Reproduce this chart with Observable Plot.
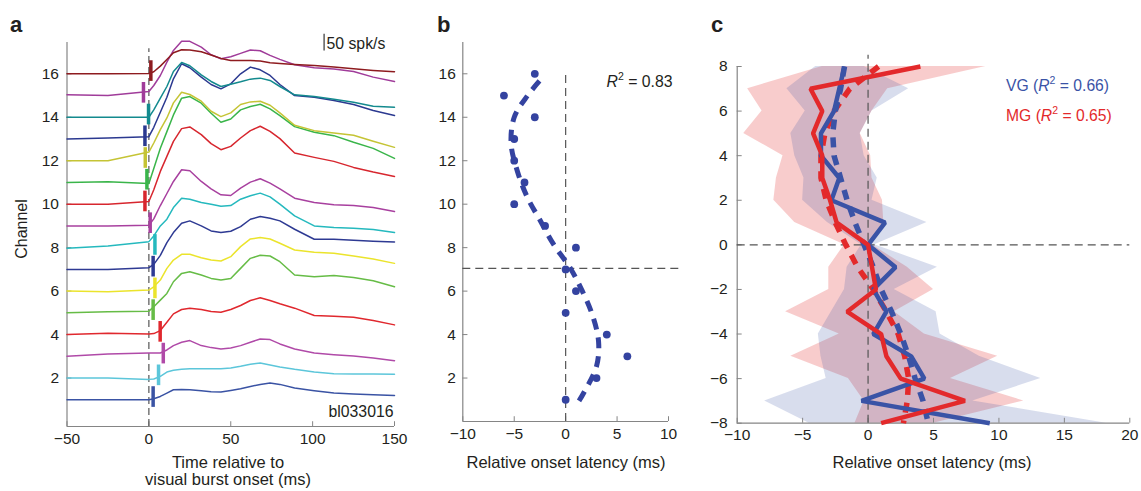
<!DOCTYPE html>
<html><head><meta charset="utf-8">
<script src="https://cdn.jsdelivr.net/npm/d3@7"></script>
<script src="https://cdn.jsdelivr.net/npm/@observablehq/plot@0.6"></script>
<style>
html,body{margin:0;padding:0;background:#fff;}
#root{position:relative;width:1141px;height:491px;overflow:hidden;}
#root svg{position:absolute;overflow:visible;max-width:none;}
</style></head><body><div id="root"></div>
<script>
// ---------------- Panel a data ----------------
const timeMs = [-50,-25,0,3,7,11,15,20,25,32,38,44,50,56,62,68,74,80,89,101,113,125,137,150];
const rateCh01 = [0,0,0,3,10,20,30,31,30,27,24,23,28,33,40,46,50,46,35,27,20,17,15,13];
const rateCh02 = [0,0,-4,-3,5,18,23,26,28,28,28,28,30,35,41,45,39,33,26,18,13,12,12,11];
const rateCh03 = [0,7,10,10,10,19,32,42,47,32,26,22,25,32,42,52,50,37,22,10,5,1,-5,-13];
const rateCh04 = [0,4,2,3,12,37,62,75,79,75,69,67,75,87,102,110,102,92,79,57,55,52,42,29];
const rateCh05 = [0,3,5,18,38,58,93,118,123,113,103,98,103,133,163,172,170,153,113,108,112,106,96,78];
const rateCh06 = [0,-2,3,13,33,68,93,110,110,100,93,90,103,133,156,160,156,143,123,116,113,105,96,83];
const rateCh07 = [0,0,5,15,42,80,110,138,145,130,115,110,114,128,150,158,153,145,120,90,90,87,84,82];
const rateCh08 = [-2,5,18,35,65,85,120,148,145,135,130,124,126,145,155,163,152,130,95,65,60,58,54,45];
const rateCh09 = [0,0,2,21,61,97,133,168,165,133,111,93,91,113,131,141,128,111,83,70,63,61,55,43];
const rateCh10 = [0,0,8,43,98,143,188,226,231,208,181,163,173,198,220,233,218,196,153,140,128,110,96,83];
const rateCh11 = [0,2,-3,42,102,152,202,252,257,237,207,180,190,217,227,234,220,200,167,150,140,120,102,72];
const rateCh12 = [0,0,26,53,93,128,173,205,198,178,148,132,143,168,176,178,166,143,106,90,83,76,58,40];
const rateCh13 = [0,3,7,35,80,125,180,225,213,185,163,150,165,195,215,207,190,163,130,125,115,103,85,70];
const rateCh14 = [0,0,0,22,57,92,137,164,154,127,107,92,99,106,114,117,110,92,67,62,54,45,33,30];
const rateCh15 = [2,0,12,30,60,100,135,162,162,145,122,110,116,126,136,134,120,108,92,83,79,72,55,42];
const rateCh16 = [0,0,1,6,23,43,63,72,71,66,56,46,40,40,40,38,33,31,28,25,20,15,10,6];
const traceColors = ["#3a53a4","#5cc6da","#b04aa8","#e0282e","#66bc46","#ebe42c","#2e3a93","#25b9be",
                     "#a8409f","#d7262e","#3ab54a","#c5c435","#2b3990","#138a8e","#a03c9a","#8e1b1f"];
const onsetMs = [2.6,5.9,8.8,6.9,2.6,3.7,2.6,3.7,0.8,-2.4,-1.2,-2.2,-2.4,-0.2,-3.3,1.2];
const spkPerChannel = 65;
const scaleBar = {t: 107, base: 17.05, spk: 50};
const xTicksA = [-50,0,50,100,150];
const yTicksA = [2,4,6,8,10,12,14,16];

// ---------------- Panel b data ----------------
const latencyB = [0,3,6,4,0,1,0,1,-2,-5,-4,-5,-5,-3,-6,-3];   // channels 1..16
const fitChB  = [0.95,1.31,2.54,3.68,4.9,6.02,7.02,8.17,9.27,10.34,11.53,12.76,14.0,15.0,15.8];
const fitLatB = [1.3,1.75,3.0,3.2,2.6,1.6,0.5,-1.2,-2.5,-3.75,-4.7,-5.3,-5.0,-3.7,-2.3];
const crossB = {lat: 0, ch: 7.05};
const xTicksB = [-10,-5,0,5,10];
const yTicksB = [2,4,6,8,10,12,14,16];

// ---------------- Panel c data ----------------
const yC     = [8,7,6,5,4,3,2,1,0,-1,-2,-3,-4,-5,-6,-7,-8];
const vgMean = [-1.8,-2.2,-2.6,-3.6,-3.6,-2.2,-2.8,1.3,0,2.1,0.4,1.4,0.4,3.3,4.3,-0.5,9.3];
const vgFit  = [-1.8,-2.1,-2.5,-2.7,-2.6,-2.1,-1.6,-1.0,-0.3,0.4,1.0,1.8,2.5,3.1,3.6,4.2,4.6];
const vgLo   = [-4.0,-6.2,-4.8,-5.9,-5.6,-4.9,-5.0,-3.1,-0.5,-1.6,-1.8,-2.8,-3.8,-3.6,-3.2,-7.9,-4.5];
const vgHi   = [-0.3,3.1,0.3,-0.6,-0.3,0.7,0.3,4.5,0.5,5.3,2.0,5.2,5.5,8.5,13.2,8.0,18.2];
const mgMean = [4.0,-4.4,-3.5,-4.2,-3.5,-3.5,-2.9,-2.4,0,0.3,0.6,-1.6,1.0,1.4,2.5,7.4,1.0];
const mgFit  = [0.8,-1.4,-2.6,-3.3,-3.6,-3.6,-3.2,-2.5,-1.7,-0.8,0.4,1.4,2.3,2.8,3.1,3.0,2.7];
const mgLo   = [-3.5,-9.2,-8.1,-9.5,-6.5,-7.0,-7.2,-5.6,-1.8,-3.0,-3.0,-6.3,-2.2,-5.9,-1.5,-0.3,-1.0];
const mgHi   = [9.0,1.5,0.3,-0.6,0.2,0.3,1.1,1.2,0.3,3.0,5.0,2.0,4.3,9.9,6.3,11.9,5.0];
const xTicksC = [-10,-5,0,5,10,15,20];
const yTicksC = [-8,-6,-4,-2,0,2,4,6,8];

// ---------------- Styles ----------------
const FONT = "'Liberation Sans', Arial, Helvetica, sans-serif";
const GREY = "#858585";
const DASH = "#555";
const RED = "#e3292b";
const BLUE = "#3a53a6";
const DOT = "#3443a0";
const baseStyle = {background: "transparent", fontFamily: FONT, fontSize: "15.5px", color: "#231f20", overflow: "visible"};

const root = document.getElementById("root");
function place(svg, left) { svg.style.left = left + "px"; svg.style.top = "0px"; root.appendChild(svg); }

// ---------------- Panel a ----------------
const rates = [rateCh01,rateCh02,rateCh03,rateCh04,rateCh05,rateCh06,rateCh07,rateCh08,
               rateCh09,rateCh10,rateCh11,rateCh12,rateCh13,rateCh14,rateCh15,rateCh16];
const traceRows = [];
rates.forEach((r, i) => r.forEach((v, j) =>
  traceRows.push({ch: i + 1, t: timeMs[j], y: i + 1 + v / spkPerChannel, color: traceColors[i]})));
const onsetRows = onsetMs.map((t, i) => ({ch: i + 1, t, color: traceColors[i]}));
const AY0 = -0.23, AY1 = 17.44;
const plotA = Plot.plot({
  width: 420, height: 491, marginLeft: 66.5, marginRight: 26, marginTop: 42, marginBottom: 65,
  x: {domain: [-50, 150], label: null}, y: {domain: [AY0, AY1], label: null},
  color: {type: "identity"}, style: baseStyle,
  marks: [
    Plot.ruleX([-50], {y1: AY0, y2: AY1, stroke: GREY, strokeWidth: 1.2}),
    Plot.ruleY([AY0], {x1: -50, x2: 150, stroke: GREY, strokeWidth: 1.2}),
    Plot.ruleX(xTicksA, {y1: AY0, y2: AY0 + 0.22, stroke: GREY}),
    Plot.ruleY(yTicksA, {x1: -50, x2: -47, stroke: GREY}),
    Plot.ruleX([0], {y1: AY0, y2: 17.15, stroke: DASH, strokeWidth: 1.2, strokeDasharray: "7,4"}),
    Plot.line(traceRows, {x: "t", y: "y", z: "ch", stroke: "color", strokeWidth: 1.5}),
    Plot.ruleX(onsetRows, {x: "t", y1: d => d.ch - 0.35, y2: d => d.ch + 0.6, stroke: "color", strokeWidth: 3.5}),
    Plot.ruleX([scaleBar], {x: "t", y1: "base", y2: d => d.base + d.spk / spkPerChannel, stroke: "#333", strokeWidth: 1.2}),
    Plot.axisX(xTicksA, {tickSize: 0, tickPadding: 6, label: null}),
    Plot.axisY(yTicksA, {tickSize: 0, tickPadding: 8, label: null})
  ]
});
place(plotA, 0);

// ---------------- Panel b ----------------
const latRows = latencyB.map((lat, i) => ({ch: i + 1, lat}));
const fitRowsB = fitChB.map((ch, i) => ({ch, lat: fitLatB[i]}));
const BY0 = 0, BY1 = 17.44;
const plotB = Plot.plot({
  width: 290, height: 491, marginLeft: 42.3, marginRight: 42, marginTop: 42, marginBottom: 70,
  x: {domain: [-10, 10], label: null}, y: {domain: [BY0, BY1], label: null}, style: baseStyle,
  marks: [
    Plot.ruleX([-10], {y1: BY0, y2: BY1, stroke: GREY, strokeWidth: 1.2}),
    Plot.ruleY([BY0], {x1: -10, x2: 10, stroke: GREY, strokeWidth: 1.2}),
    Plot.ruleX(xTicksB, {y1: BY0, y2: BY0 + 0.22, stroke: GREY}),
    Plot.ruleY(yTicksB, {x1: -10, x2: -9.5, stroke: GREY}),
    Plot.ruleX([crossB.lat], {y1: BY0, y2: 16, stroke: DASH, strokeWidth: 1.2, strokeDasharray: "8,5"}),
    Plot.ruleY([crossB.ch], {x1: -10, x2: 11.2, stroke: DASH, strokeWidth: 1.2, strokeDasharray: "8,5"}),
    Plot.dot(latRows, {x: "lat", y: "ch", r: 3.9, fill: DOT}),
    Plot.line(fitRowsB, {x: "lat", y: "ch", stroke: DOT, strokeWidth: 5, strokeDasharray: "11,8",
                         strokeLinecap: "butt", curve: "catmull-rom"}),
    Plot.axisX(xTicksB, {tickSize: 0, tickPadding: 6, label: null}),
    Plot.axisY(yTicksB, {tickSize: 0, tickPadding: 7, label: null})
  ]
});
place(plotB, 420);

// ---------------- Panel c ----------------
const cRows = yC.map((y, i) => ({y, vgMean: vgMean[i], vgFit: vgFit[i], vgLo: vgLo[i], vgHi: vgHi[i],
                                 mgMean: mgMean[i], mgFit: mgFit[i], mgLo: mgLo[i], mgHi: mgHi[i]}));
const plotC = Plot.plot({
  width: 441, height: 491, marginLeft: 36.7, marginRight: 11.7, marginTop: 66, marginBottom: 68.3,
  x: {domain: [-10, 20], label: null}, y: {domain: [-8, 8], label: null}, style: baseStyle,
  marks: [
    Plot.areaX(cRows, {y: "y", x1: "mgLo", x2: "mgHi", fill: RED, fillOpacity: 0.24}),
    Plot.areaX(cRows, {y: "y", x1: "vgLo", x2: "vgHi", fill: BLUE, fillOpacity: 0.2}),
    Plot.ruleX([-10], {y1: -8, y2: 8, stroke: GREY, strokeWidth: 1.2}),
    Plot.ruleY([-8], {x1: -10, x2: 20, stroke: GREY, strokeWidth: 1.2}),
    Plot.ruleX(xTicksC, {y1: -8, y2: -7.78, stroke: GREY}),
    Plot.ruleY(yTicksC, {x1: -10, x2: -9.62, stroke: GREY}),
    Plot.ruleX([0], {y1: -8, y2: 8.5, stroke: DASH, strokeWidth: 1.2, strokeDasharray: "8,5"}),
    Plot.ruleY([0], {x1: -10, x2: 20, stroke: DASH, strokeWidth: 1.2, strokeDasharray: "8,5"}),
    Plot.line(cRows, {x: "mgFit", y: "y", stroke: RED, strokeWidth: 5.5, strokeDasharray: "10,8", strokeLinecap: "butt"}),
    Plot.line(cRows, {x: "vgFit", y: "y", stroke: BLUE, strokeWidth: 5.5, strokeDasharray: "10,8", strokeLinecap: "butt"}),
    Plot.line(cRows, {x: "vgMean", y: "y", stroke: BLUE, strokeWidth: 4.5, strokeLinejoin: "miter", strokeLinecap: "butt"}),
    Plot.line(cRows, {x: "mgMean", y: "y", stroke: RED, strokeWidth: 4.5, strokeLinejoin: "miter", strokeLinecap: "butt"}),
    Plot.axisX(xTicksC, {tickSize: 0, tickPadding: 6, label: null}),
    Plot.axisY(yTicksC, {tickSize: 0, tickPadding: 9.5, label: null})
  ]
});
place(plotC, 700);

// ---------------- Text overlay ----------------
const ov = document.createElement("div");
ov.innerHTML = `
<svg width="1141" height="491" style="left:0;top:0" font-family="${FONT}" font-size="16" fill="#231f20">
  <text x="10" y="32" font-size="22" font-weight="bold">a</text>
  <text x="437" y="32" font-size="22" font-weight="bold">b</text>
  <text x="711" y="32" font-size="22" font-weight="bold">c</text>
  <text x="326.5" y="48.5" font-size="15.8">50 spk/s</text>
  <text x="393.5" y="416.5" text-anchor="end" font-size="15.8">bl033016</text>
  <text transform="translate(26.5,229) rotate(-90)" text-anchor="middle">Channel</text>
  <text x="228" y="468" text-anchor="middle" font-size="16.5">Time relative to</text>
  <text x="228" y="485" text-anchor="middle" font-size="16.5">visual burst onset (ms)</text>
  <text x="566" y="468" text-anchor="middle" font-size="16.5">Relative onset latency (ms)</text>
  <text x="932" y="468" text-anchor="middle" font-size="16.5">Relative onset latency (ms)</text>
  <text x="606.5" y="87" font-size="15.8"><tspan font-style="italic">R</tspan><tspan dy="-7" font-size="10.5">2</tspan><tspan dy="7"> = 0.83</tspan></text>
  <text x="1006" y="91" font-size="15.7" fill="${BLUE}">VG (<tspan font-style="italic">R</tspan><tspan dy="-7" font-size="10.5">2</tspan><tspan dy="7"> = 0.66)</tspan></text>
  <text x="1006" y="121" font-size="15.7" fill="${RED}">MG (<tspan font-style="italic">R</tspan><tspan dy="-7" font-size="10.5">2</tspan><tspan dy="7"> = 0.65)</tspan></text>
</svg>`;
root.appendChild(ov.firstElementChild);
</script>
</body></html>
